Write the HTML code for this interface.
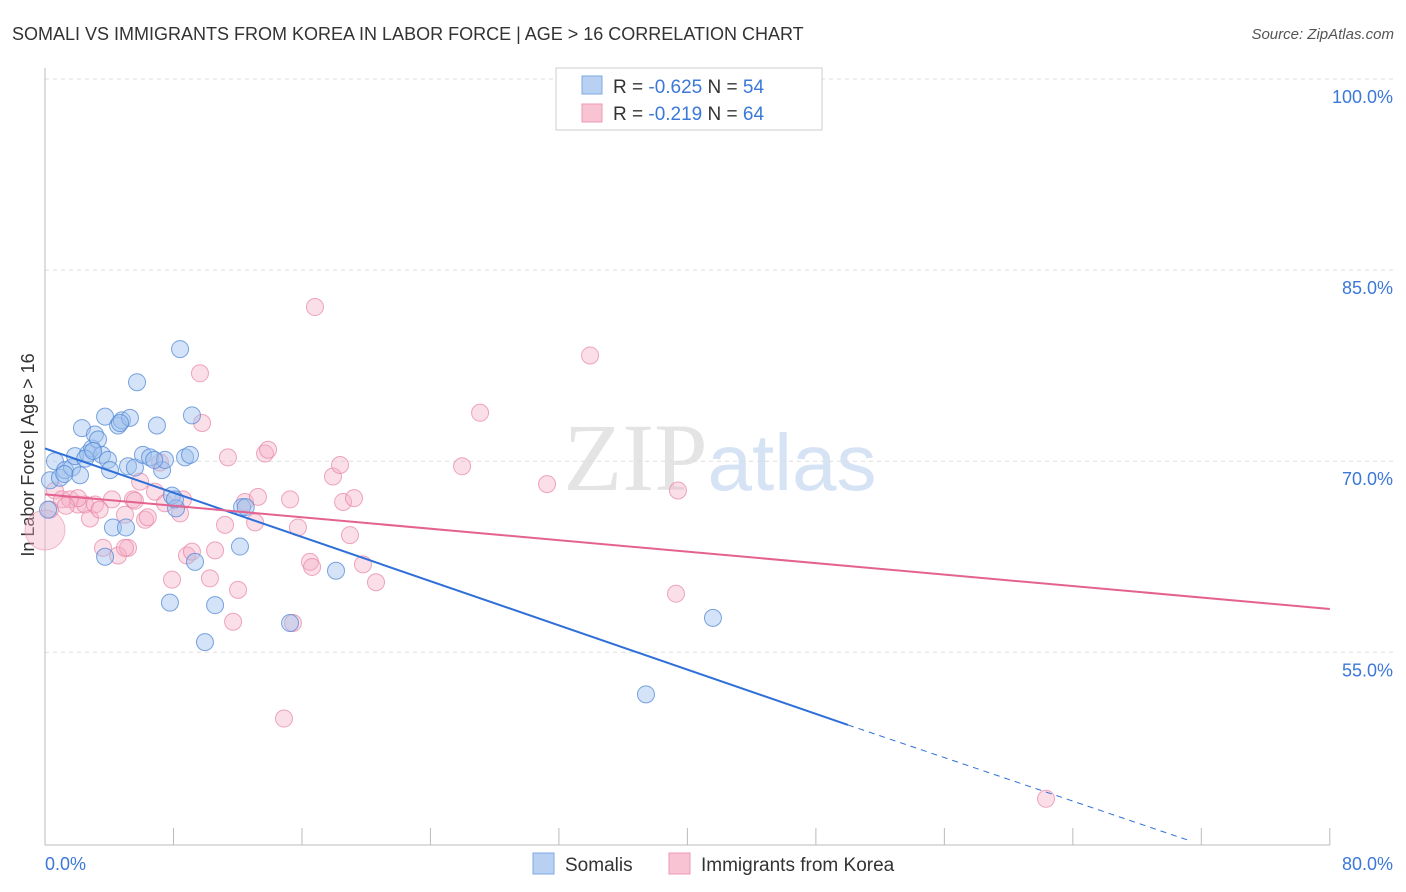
<!DOCTYPE html>
<html><head><meta charset="utf-8"><style>
body{margin:0;background:#fff;font-family:"Liberation Sans",sans-serif;}
</style></head><body>
<svg id="chart" width="1406" height="892" xmlns="http://www.w3.org/2000/svg" style="display:block">
<text x="12" y="40" font-size="18" fill="#333">SOMALI VS IMMIGRANTS FROM KOREA IN LABOR FORCE | AGE &gt; 16 CORRELATION CHART</text>
<text x="1394" y="39" font-size="15" fill="#555" font-style="italic" text-anchor="end">Source: ZipAtlas.com</text>
<text x="720" y="490" font-size="96" text-anchor="middle" fill="#e4e4e4" font-family="Liberation Serif,serif">ZIP<tspan fill="#d6e3f5" font-family="Liberation Sans,sans-serif" font-size="80">atlas</tspan></text>
<text transform="translate(34,455) rotate(-90)" font-size="18" fill="#333" text-anchor="middle">In Labor Force | Age &gt; 16</text>
<g id="grid"></g><g id="axes"></g><g id="pts"></g><g id="lines"></g>
<g>
<rect x="556" y="68" width="266" height="62" fill="#fff" stroke="#ccc"/>
<rect x="582" y="76" width="20" height="18" fill="#b8d1f3" stroke="#7ea8e6"/>
<rect x="582" y="104" width="20" height="18" fill="#f8c3d3" stroke="#ec9ab5"/>
<text x="613" y="93" font-size="19" fill="#333">R = <tspan fill="#3b78d8">-0.625</tspan>    N = <tspan fill="#3b78d8">54</tspan></text>
<text x="613" y="120" font-size="19" fill="#333">R =  <tspan fill="#3b78d8">-0.219</tspan>    N = <tspan fill="#3b78d8">64</tspan></text>
</g>
<g>
<rect x="533" y="853" width="21" height="21" fill="#b8d1f3" stroke="#7ea8e6"/>
<text x="565" y="871" font-size="19" fill="#333">Somalis</text>
<rect x="669" y="853" width="21" height="21" fill="#f8c3d3" stroke="#ec9ab5"/>
<text x="701" y="871" font-size="19" fill="#333">Immigrants from Korea</text>
</g>
</svg>
<script>
const somaliX=[0.31,0.62,0.93,1.25,1.68,1.87,2.18,2.30,2.68,2.93,3.11,3.30,3.55,3.74,3.92,4.05,3.74,4.23,4.55,4.79,5.04,5.29,5.17,5.60,5.73,6.10,6.54,6.97,7.29,7.47,7.78,7.91,8.16,8.41,8.72,9.03,9.15,9.34,9.96,10.59,12.14,12.27,15.26,18.12,37.42,41.59,0.19,8.09,4.67,1.2,2.5,3.0,12.5,6.8];
const somaliY=[68.5,70.0,68.7,69.3,69.5,70.4,68.9,72.6,70.6,71.0,72.1,71.7,70.5,73.5,70.1,69.3,62.5,64.8,72.8,73.2,64.8,73.4,69.6,69.5,76.2,70.5,70.3,72.8,69.3,70.1,58.9,67.3,66.3,78.8,70.3,70.5,73.6,62.1,55.8,58.7,63.3,66.4,57.3,61.4,51.7,57.7,66.2,67.0,73.0,69.0,70.2,70.8,66.4,70.1];
const koreaX=[0.31,0.62,1.06,1.56,2.05,2.49,2.80,3.11,3.61,4.17,4.55,4.98,5.17,5.48,5.92,6.23,6.85,7.16,7.47,7.91,8.59,8.41,8.84,9.15,9.65,9.78,10.27,10.59,11.21,11.39,11.71,12.02,12.45,13.08,13.26,13.70,13.89,14.88,15.26,15.44,15.75,16.50,16.63,16.81,17.93,18.37,18.56,18.99,19.24,19.80,20.61,25.97,27.09,31.26,33.94,39.41,39.29,62.33,2.05,4.98,1.3,3.4,6.4,5.6];
const koreaY=[66.2,67.7,67.0,67.0,66.6,66.6,65.5,66.6,63.2,67.0,62.6,65.8,63.2,67.0,68.4,65.4,67.6,69.9,66.7,60.7,67.0,65.9,62.6,62.9,76.9,73.0,60.8,63.0,65.0,70.3,57.4,59.9,66.8,65.2,67.2,70.6,70.9,49.8,67.0,57.3,64.8,62.1,61.7,82.1,68.8,69.7,66.8,64.2,67.1,61.9,60.5,69.6,73.8,68.2,78.3,67.7,59.6,43.5,67.1,63.2,66.5,66.2,65.6,66.9];
const yTicks=[100,85,70,55];
const xTickLabels=["0.0%","80.0%"];
const blueLine=[[0,71.0],[50,49.3]], blueDash=[[50,49.3],[71.3,40.2]];
const pinkLine=[[0,67.4],[80,58.4]];
const X=v=>45+v*16.06, Y=v=>79+(100-v)*12.74;
const NS="http://www.w3.org/2000/svg";
function mk(p,t,a){const e=document.createElementNS(NS,t);for(const k in a)e.setAttribute(k,a[k]);p.appendChild(e);return e;}
const grid=document.getElementById('grid'),axes=document.getElementById('axes'),pts=document.getElementById('pts'),lines=document.getElementById('lines');
yTicks.forEach(v=>{
const l=mk(grid,'line',{x1:45,x2:1394,y1:Y(v),y2:Y(v),stroke:'#ddd','stroke-dasharray':'4,4'});


const t=mk(grid,'text',{x:1393,y:Y(v)+24,'font-size':18,fill:'#3b78d8','text-anchor':'end'});t.textContent=v.toFixed(1)+'%';


});
mk(axes,'line',{x1:45,x2:45,y1:68,y2:845,stroke:'#bbb'});
mk(axes,'line',{x1:45,x2:1330,y1:845,y2:845,stroke:'#bbb'});
for(let i=0;i<=10;i++){const tk=mk(axes,'line',{x1:X(i*8),x2:X(i*8),y1:828,y2:845,stroke:'#bbb'});

}
const xl0=mk(axes,'text',{x:45,y:870,'font-size':18,fill:'#3b78d8'});xl0.textContent=xTickLabels[0];


const xl1=mk(axes,'text',{x:1393,y:870,'font-size':18,fill:'#3b78d8','text-anchor':'end'});xl1.textContent=xTickLabels[1];


koreaX.forEach((x,i)=>{const c=mk(pts,'circle',{cx:X(x),cy:Y(koreaY[i]),r:8.5,fill:'rgba(246,176,198,0.4)',stroke:'rgba(232,130,163,0.7)','stroke-width':1});

});
const big=mk(pts,'circle',{cx:X(0),cy:Y(64.6),r:20,fill:'rgba(246,176,198,0.4)',stroke:'rgba(232,130,163,0.5)'});


somaliX.forEach((x,i)=>{const c=mk(pts,'circle',{cx:X(x),cy:Y(somaliY[i]),r:8.5,fill:'rgba(160,194,238,0.45)',stroke:'rgba(80,135,215,0.75)','stroke-width':1});

});
const bl=mk(lines,'line',{x1:X(blueLine[0][0]),y1:Y(blueLine[0][1]),x2:X(blueLine[1][0]),y2:Y(blueLine[1][1]),stroke:'#2f6fd8','stroke-width':2});


const bd=mk(lines,'line',{x1:X(blueDash[0][0]),y1:Y(blueDash[0][1]),x2:X(blueDash[1][0]),y2:Y(blueDash[1][1]),stroke:'#2f6fd8','stroke-width':1,'stroke-dasharray':'6,5'});


const pl=mk(lines,'line',{x1:X(pinkLine[0][0]),y1:Y(pinkLine[0][1]),x2:X(pinkLine[1][0]),y2:Y(pinkLine[1][1]),stroke:'#e4628f','stroke-width':2});


</script>
</body></html>
